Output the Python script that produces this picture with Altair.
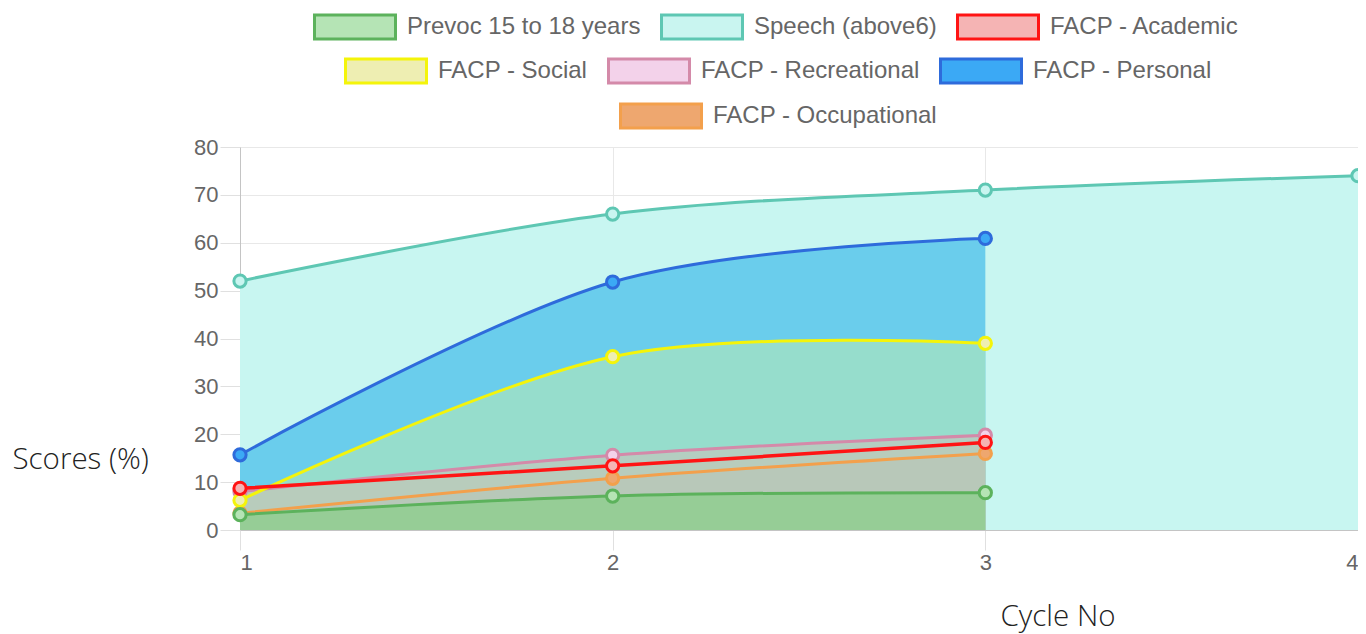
import altair as alt
import pandas as pd

# ---------------- data ----------------
cycles = [1, 2, 3, 4]
series_names = [
    "Prevoc 15 to 18 years",
    "Speech (above6)",
    "FACP - Academic",
    "FACP - Social",
    "FACP - Recreational",
    "FACP - Personal",
    "FACP - Occupational",
]
prevoc = [3.2, 7.1, 7.8]
speech = [52.0, 66.0, 71.0, 74.0]
academic = [8.7, 13.4, 18.3]
social = [6.2, 36.2, 39.0]
recreational = [8.0, 15.6, 19.8]
personal = [15.7, 51.8, 60.9]
occupational = [3.5, 10.8, 16.0]
series_values = [prevoc, speech, academic, social, recreational, personal, occupational]

y_ticks = [0, 10, 20, 30, 40, 50, 60, 70, 80]
x_ticks = [1, 2, 3, 4]

# ---------------- styles ----------------
line_colors = ["#5cb25c", "#5ec7b3", "#ff1414", "#f4f40a", "#d48aa9", "#2e6bdb", "#f3a04c"]
point_fills = ["#b5e4b5", "#c9f5f0", "#f5b4b4", "#eeeeb2", "#f3d2ea", "#3ba9f5", "#eea76f"]
band_colors = ["#96cd96", "#c8f6f1", "#b8ccbc", "#96ddcc", "#b4cec1", "#6acdec", "#b8c8b9"]
line_widths = [3, 3, 3.5, 3, 3, 3, 3]
legend_rows = [[0, 1, 2], [3, 4, 5], [6]]
legend_xy = [(73, -162), (104, -118), (379, -73)]

rows = []
for i, (name, vals) in enumerate(zip(series_names, series_values)):
    for c, v in zip(cycles, vals):
        rows.append({"series": name, "cycle": c, "value": v, "idx": i})
df = pd.DataFrame(rows)

x_enc = alt.X(
    "cycle:Q",
    scale=alt.Scale(domain=[1, 4], nice=False, zero=False),
    axis=alt.Axis(
        values=x_ticks, format="d", grid=True, gridColor="#e8e8e8",
        domainColor="#c4c4c4", tickColor="#e0e0e0", tickSize=20, labelPadding=2,
        labelFont="Liberation Sans", labelFontSize=22, labelColor="#666666",
        title="Cycle No", titleAngle=0, titleAlign="left", titleBaseline="alphabetic",
        titleX=760, titleY=95, titleFont="Open Sans", titleFontSize=29.5,
        titleFontWeight=300, titleColor="#222222",
    ),
)
y_enc = alt.Y(
    "value:Q",
    scale=alt.Scale(domain=[0, 80], nice=False),
    axis=alt.Axis(
        values=y_ticks, grid=True, gridColor="#e8e8e8",
        domainColor="#c4c4c4", tickColor="#e0e0e0", tickSize=20, labelPadding=2,
        labelFont="Liberation Sans", labelFontSize=22, labelColor="#666666",
        title="Scores (%)", titleAngle=0, titleAlign="left", titleBaseline="alphabetic",
        titleX=-228, titleY=321, titleFont="Open Sans", titleFontSize=29.5,
        titleFontWeight=300, titleColor="#222222",
    ),
)

layers = []

# legend carrier layers (invisible points, one legend per row)
for r, (row, (lx, ly)) in enumerate(zip(legend_rows, legend_xy)):
    names = [series_names[i] for i in row]
    leg = alt.Legend(
        title=None, orient="none", legendX=lx, legendY=ly, direction="horizontal",
        symbolType="M-1,-0.296H1V0.296H-1Z", symbolSize=6561, symbolStrokeWidth=3,
        symbolOpacity=1, labelFont="Liberation Sans", labelFontSize=24,
        labelColor="#666666", labelOffset=10, labelLimit=0, columnPadding=14, padding=0,
    )
    layers.append(
        alt.Chart(df)
        .transform_filter(alt.FieldOneOfPredicate(field="series", oneOf=names))
        .mark_point(filled=True, opacity=0)
        .encode(
            x=x_enc, y=y_enc,
            fill=alt.Fill("series:N", scale=alt.Scale(domain=names, range=[point_fills[i] for i in row]), legend=leg),
            stroke=alt.Stroke("series:N", scale=alt.Scale(domain=names, range=[line_colors[i] for i in row]), legend=leg),
        )
    )

# filled areas: largest first
order = sorted(range(len(series_names)), key=lambda i: -sum(series_values[i]) / len(series_values[i]))
for i in order:
    layers.append(
        alt.Chart(df)
        .transform_filter(alt.datum.series == series_names[i])
        .mark_area(interpolate="cardinal", tension=0, color=band_colors[i], opacity=1)
        .encode(x=x_enc, y=y_enc)
    )

# lines and points: last dataset first, first dataset on top
for i in reversed(range(len(series_names))):
    base = alt.Chart(df).transform_filter(alt.datum.series == series_names[i])
    layers.append(
        base.mark_line(interpolate="cardinal", tension=0, color=line_colors[i], strokeWidth=line_widths[i])
        .encode(x=x_enc, y=y_enc)
    )
    layers.append(
        base.mark_point(filled=True, size=150, strokeWidth=3, fill=point_fills[i],
                        stroke=line_colors[i], opacity=1)
        .encode(x=x_enc, y=y_enc)
    )

chart = (
    alt.layer(*layers)
    .resolve_scale(fill="independent", stroke="independent")
    .properties(
        width=1118, height=383,
        padding={"left": 232, "top": 139, "right": 0, "bottom": 104},
        autosize=alt.AutoSizeParams(type="none"),
    )
    .configure_view(stroke=None)
)

chart.save("out.html", embed_options={"renderer": "svg", "actions": False})
